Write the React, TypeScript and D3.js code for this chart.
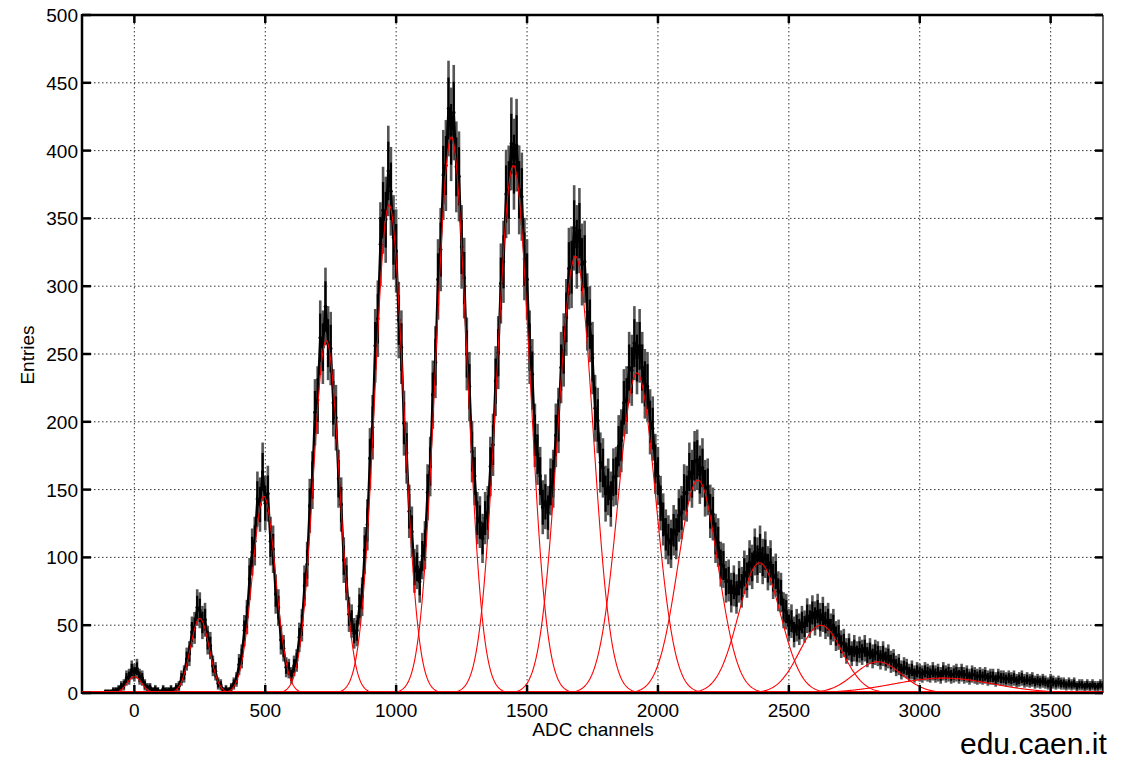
import React from "react";
import * as d3 from "d3";

const W = 1134;
const H = 760;
const plot = { left: 82, top: 15, right: 1103, bottom: 693 };

// histogram: one value every 10 ADC channels, first bin at -150
const binStart = -150;
const binWidth = 10;
const entries = [
  0, 0, 0, 0, 1, 1, 1, 2, 2, 3,
  5, 6, 11, 12, 17, 15, 18, 12, 11, 6,
  4, 4, 2, 3, 2, 1, 3, 2, 2, 3,
  2, 4, 5, 11, 14, 25, 29, 45, 48, 63,
  61, 52, 54, 39, 35, 20, 16, 7, 6, 2,
  3, 2, 4, 7, 10, 21, 27, 46, 56, 84,
  104, 112, 143, 139, 163, 140, 147, 112, 106, 73,
  63, 39, 33, 19, 18, 13, 20, 24, 41, 50,
  79, 95, 138, 157, 207, 216, 262, 255, 285, 258,
  254, 214, 203, 158, 139, 98, 84, 58, 53, 44,
  46, 64, 71, 105, 124, 173, 196, 256, 276, 331,
  356, 349, 385, 370, 336, 326, 275, 255, 199, 177,
  134, 119, 90, 93, 82, 101, 109, 148, 167, 220,
  244, 305, 327, 382, 389, 431, 412, 428, 388, 381,
  329, 306, 250, 226, 178, 160, 129, 126, 114, 129,
  133, 167, 183, 230, 251, 302, 318, 368, 371, 405,
  390, 404, 371, 366, 320, 305, 255, 235, 190, 176,
  160, 137, 141, 133, 152, 158, 190, 201, 240, 253,
  277, 313, 314, 343, 329, 341, 316, 318, 281, 272,
  247, 210, 201, 170, 166, 147, 152, 143, 159, 160,
  182, 186, 214, 216, 240, 238, 258, 247, 256, 240,
  228, 226, 200, 195, 169, 160, 140, 128, 117, 113,
  110, 120, 117, 131, 133, 148, 147, 163, 158, 171,
  172, 161, 166, 151, 152, 134, 132, 114, 111, 95,
  94, 82, 83, 74, 79, 73, 82, 78, 89, 86,
  96, 93, 104, 98, 106, 97, 102, 92, 96, 85,
  87, 75, 74, 61, 60, 50, 53, 45, 50, 47,
  52, 49, 57, 53, 59, 55, 60, 54, 58, 52,
  54, 47, 50, 42, 43, 36, 37, 31, 34, 29,
  33, 29, 32, 30, 33, 28, 31, 27, 30, 29,
  26, 29, 25, 27, 23, 24, 20, 21, 17, 19,
  18, 15, 17, 14, 16, 15, 14, 16, 15, 14,
  16, 14, 15, 13, 16, 14, 15, 13, 14, 15,
  13, 15, 13, 14, 12, 14, 13, 12, 13, 12,
  13, 11, 12, 12, 10, 12, 11, 11, 10, 11,
  10, 11, 9, 10, 11, 9, 10, 9, 10, 8,
  9, 8, 9, 8, 7, 9, 8, 7, 8, 7,
  7, 6, 7, 6, 7, 5, 6, 6, 5, 6,
  5, 6, 5, 5, 6, 5,
];

// gaussian fit of each photo-electron peak
const fitCenters = [0, 250, 495, 733, 973, 1211, 1448, 1685, 1920, 2153, 2388, 2622, 2840, 3090];
const fitAmps = [12, 55, 145, 260, 360, 410, 389, 322, 236, 157, 96, 50, 23, 11];
const fitSigmas = [28, 36, 44, 50, 55, 59, 63, 67, 72, 76, 80, 82, 90, 190];

const xTicks = [0, 500, 1000, 1500, 2000, 2500, 3000, 3500];
const yTicks = [0, 50, 100, 150, 200, 250, 300, 350, 400, 450, 500];

const font = "'Liberation Sans', Arial, Helvetica, sans-serif";

export default function App() {
  const x = d3.scaleLinear().domain([-200, 3700]).range([plot.left, plot.right]);
  const y = d3.scaleLinear().domain([0, 500]).range([plot.bottom, plot.top]);

  const bins = entries.map((v, i) => ({ ch: binStart + i * binWidth, v }));
  const shown = bins.filter((d) => d.v > 0);

  const dataLine = d3
    .line<{ ch: number; v: number }>()
    .x((d) => x(d.ch))
    .y((d) => y(d.v));

  const grid = d3.range(-200, 3701, 3);
  const fitLine = d3
    .line<number[]>()
    .x((d) => x(d[0]))
    .y((d) => y(d[1]));
  const fits = fitCenters.map((c, k) =>
    fitLine(
      grid.map((ch) => [
        ch,
        fitAmps[k] * Math.exp(-((ch - c) ** 2) / (2 * fitSigmas[k] ** 2)),
      ])
    )
  );

  return (
    <div style={{ position: "absolute", left: 0, top: 0 }}>
      <svg width={W} height={H} style={{ display: "block", background: "#fff" }}>
        <defs>
          <clipPath id="plotclip">
            <rect x={plot.left} y={plot.top} width={plot.right - plot.left} height={plot.bottom - plot.top + 2} />
          </clipPath>
        </defs>

        {/* dotted grid */}
        <g stroke="#333" strokeWidth={1} strokeDasharray="1.5,2.5">
          {xTicks.map((t) => (
            <line key={"gx" + t} x1={x(t)} x2={x(t)} y1={plot.top} y2={plot.bottom} />
          ))}
          {yTicks.slice(1, -1).map((t) => (
            <line key={"gy" + t} x1={plot.left} x2={plot.right} y1={y(t)} y2={y(t)} />
          ))}
        </g>

        <g clipPath="url(#plotclip)">
          {/* error bars (wide grey) then the core */}
          <g stroke="#555" strokeWidth={2.6}>
            {shown.map((d) => {
              const e = 1.7 * Math.sqrt(d.v);
              return (
                <line
                  key={"e" + d.ch}
                  x1={x(d.ch)}
                  x2={x(d.ch)}
                  y1={y(Math.max(0, d.v - e))}
                  y2={y(d.v + e)}
                />
              );
            })}
          </g>
          <g stroke="#000" strokeWidth={2.2}>
            {shown.map((d) => {
              const e = 1.1 * Math.sqrt(d.v);
              return (
                <line
                  key={"c" + d.ch}
                  x1={x(d.ch)}
                  x2={x(d.ch)}
                  y1={y(Math.max(0, d.v - e))}
                  y2={y(d.v + e)}
                />
              );
            })}
          </g>
          <path d={dataLine(shown) || ""} fill="none" stroke="#000" strokeWidth={2.4} />
          <g fill="#000">
            {shown.map((d) => (
              <circle key={"p" + d.ch} cx={x(d.ch)} cy={y(d.v)} r={1.8} />
            ))}
          </g>
          {/* fits */}
          <g fill="none" stroke="#ff0000" strokeWidth={1.1}>
            {fits.map((p, k) => (
              <path key={"f" + k} d={p || ""} />
            ))}
          </g>
        </g>

        {/* frame */}
        <g stroke="#000" fill="none">
          <line x1={plot.left} x2={plot.right} y1={plot.top} y2={plot.top} strokeWidth={2.5} />
          <line x1={plot.left} x2={plot.right} y1={plot.bottom} y2={plot.bottom} strokeWidth={2.5} />
          <line x1={plot.left} x2={plot.left} y1={plot.top - 1} y2={plot.bottom + 1} strokeWidth={2.5} />
          <line x1={plot.right} x2={plot.right} y1={plot.top} y2={plot.bottom} strokeWidth={1.2} />
        </g>
        <line x1={plot.left} x2={plot.right} y1={plot.bottom - 1.5} y2={plot.bottom - 1.5} stroke="#ff0000" strokeWidth={1} />

        {/* ticks */}
        <g stroke="#000" strokeWidth={2.5}>
          {xTicks.map((t) => (
            <g key={"tx" + t}>
              <line x1={x(t)} x2={x(t)} y1={plot.bottom} y2={plot.bottom - 8} />
              <line x1={x(t)} x2={x(t)} y1={plot.top} y2={plot.top + 8} />
            </g>
          ))}
          {yTicks.map((t) => (
            <g key={"ty" + t}>
              <line x1={plot.left} x2={plot.left + 9} y1={y(t)} y2={y(t)} />
              <line x1={plot.right} x2={plot.right - 8} y1={y(t)} y2={y(t)} />
            </g>
          ))}
        </g>

        {/* tick labels */}
        <g fontFamily={font} fontSize={19} fill="#000">
          {xTicks.map((t) => (
            <text key={"lx" + t} x={x(t)} y={717} textAnchor="middle">
              {t}
            </text>
          ))}
          {yTicks.map((t) => (
            <text key={"ly" + t} x={78} y={y(t) + 7} textAnchor="end">
              {t}
            </text>
          ))}
        </g>

        <text x={593} y={736} fontFamily={font} fontSize={19} textAnchor="middle">
          ADC channels
        </text>
        <text
          transform={`translate(34, 355) rotate(-90)`}
          fontFamily={font}
          fontSize={19}
          textAnchor="middle"
        >
          Entries
        </text>

        <text x={960} y={754} fontFamily={font} fontSize={30}>
          edu.caen.it
        </text>
      </svg>
    </div>
  );
}
